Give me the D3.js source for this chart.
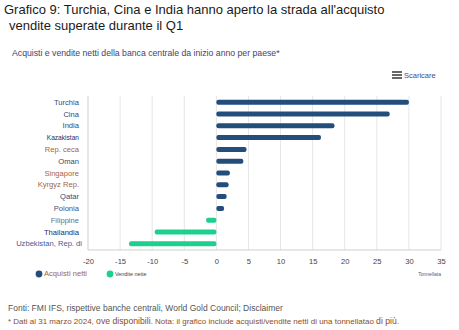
<!DOCTYPE html>
<html>
<head>
<meta charset="utf-8">
<script src="https://cdn.jsdelivr.net/npm/d3@7"></script>
<style>
  html, body { margin: 0; padding: 0; background: #fff; }
  svg { display: block; font-family: "Liberation Sans", Arial, sans-serif; }
</style>
</head>
<body>
<svg id="chart" width="459" height="330"></svg>
<script>
// Net central bank purchases / sales, tonnes, year to date
const countries = ["Turchia", "Cina", "India", "Kazakistan", "Rep. ceca", "Oman", "Singapore",
  "Kyrgyz Rep.", "Qatar", "Polonia", "Filippine", "Thailandia", "Uzbekistan, Rep. di"];
const tonnes = [30.0, 27.0, 18.4, 16.3, 4.7, 4.2, 2.1, 1.9, 1.6, 1.2, -1.6, -9.6, -13.6];
const labelColors = ["#3e4470", "#3e4470", "#3e4470", "#27305e", "#a5643a", "#3e4470", "#a5643a",
  "#a5643a", "#3e4470", "#4a5080", "#707070", "#1f2a5a", "#4a5a94"];
const xTicks = [-20, -15, -10, -5, 0, 5, 10, 15, 20, 25, 30, 35];
const seriesNames = ["Acquisti netti", "Vendite nette"];
const seriesColors = ["#234e7c", "#1ecf90"];

const svg = d3.select("#chart");

// Headings
svg.append("text").attr("x", 4).attr("y", 14)
  .attr("font-size", 13).attr("fill", "#1a1a1a")
  .text("Grafico 9: Turchia, Cina e India hanno aperto la strada all'acquisto");
svg.append("text").attr("x", 9).attr("y", 30)
  .attr("font-size", 13).attr("fill", "#1a1a1a")
  .text("vendite superate durante il Q1");
svg.append("text").attr("x", 12).attr("y", 56)
  .attr("font-size", 8.7).attr("fill", "#3e4470")
  .text("Acquisti e vendite netti della banca centrale da inizio anno per paese*");

// Download menu
const menu = svg.append("g").attr("transform", "translate(392,75)");
[-3, 0, 3].forEach(dy => menu.append("rect").attr("x", 0).attr("y", dy - 0.8)
  .attr("width", 10).attr("height", 1.6).attr("fill", "#444"));
menu.append("text").attr("x", 12).attr("y", 2.6).attr("font-size", 7.5)
  .attr("fill", "#3e4a90").text("Scaricare");

// Plot
const plotLeft = 88, plotRight = 441, plotTop = 96, plotBottom = 250;
const x = d3.scaleLinear().domain([-20, 35]).range([plotLeft, plotRight]);
const y = d3.scaleBand().domain(countries).range([plotTop, plotBottom]).paddingInner(0.55).paddingOuter(0.3);

// Gridlines
svg.append("g").selectAll("line").data(xTicks.slice(1)).join("line")
  .attr("x1", d => x(d)).attr("x2", d => x(d))
  .attr("y1", plotTop).attr("y2", plotBottom)
  .attr("stroke", "#e6e6e6").attr("stroke-width", 1);

// Axis lines
svg.append("line").attr("x1", plotLeft).attr("x2", plotLeft).attr("y1", plotTop).attr("y2", plotBottom)
  .attr("stroke", "#cfcfcf");
svg.append("line").attr("x1", plotLeft).attr("x2", plotRight).attr("y1", plotBottom).attr("y2", plotBottom)
  .attr("stroke", "#cfcfcf");

// Bars
const bh = 5;
svg.append("g").selectAll("rect").data(countries).join("rect")
  .attr("x", (d, i) => x(Math.min(0, tonnes[i])))
  .attr("width", (d, i) => Math.abs(x(tonnes[i]) - x(0)))
  .attr("y", d => y(d) + y.bandwidth() / 2 - bh / 2)
  .attr("height", bh).attr("rx", 2).attr("ry", 2)
  .attr("fill", (d, i) => tonnes[i] >= 0 ? seriesColors[0] : seriesColors[1]);

// Category labels
svg.append("g").selectAll("text").data(countries).join("text")
  .attr("x", d => d === "Uzbekistan, Rep. di" ? 82 : 79)
  .attr("y", d => y(d) + y.bandwidth() / 2 + 2.6)
  .attr("text-anchor", "end")
  .attr("font-size", d => d === "Kazakistan" ? 6.6 : 7.6)
  .attr("fill", (d, i) => labelColors[i])
  .text(d => d);

// X axis tick labels (plain hyphen for negatives)
const xAxis = d3.axisBottom(x).tickValues(xTicks).tickSize(0).tickPadding(9)
  .tickFormat(d => String(d));
const gx = svg.append("g").attr("transform", `translate(0,${plotBottom})`).call(xAxis);
gx.select(".domain").remove();
gx.selectAll("text").attr("font-size", 7.6).attr("fill", "#444")
  .attr("font-family", "'Liberation Sans', Arial, sans-serif");

// Legend
const lg = svg.append("g").attr("transform", "translate(0,274)");
const legendX = [39, 110];
const legendTextColors = ["#a5643a", "#444"];
const legendSizes = [7.6, 5.4];
seriesNames.forEach((s, i) => {
  lg.append("circle").attr("cx", legendX[i]).attr("cy", 0).attr("r", 3.4).attr("fill", seriesColors[i]);
  lg.append("text").attr("x", legendX[i] + 5).attr("y", 2.4)
    .attr("font-size", legendSizes[i]).attr("fill", legendTextColors[i]).text(s);
});
svg.append("text").attr("x", 441).attr("y", 275.5).attr("text-anchor", "end")
  .attr("font-size", 5).attr("fill", "#5a5a80").text("Tonnellata");

// Footnotes
svg.append("text").attr("x", 8).attr("y", 311).attr("font-size", 8.5).attr("fill", "#555")
  .text("Fonti: FMI IFS, rispettive banche centrali, World Gold Council; Disclaimer");
const note = svg.append("text").attr("x", 8).attr("y", 324).attr("font-size", 8.0).attr("fill", "#8a4e1c");
note.append("tspan").text("* Dati al 31 marzo 2024, ");
note.append("tspan").attr("font-size", 8.7).text("ove disponibili");
note.append("tspan").text(". Nota: il grafico include acquisti/vendite netti di una tonnellatao ");
note.append("tspan").attr("font-size", 8.7).text("di più");
note.append("tspan").text(".");
</script>
</body>
</html>
